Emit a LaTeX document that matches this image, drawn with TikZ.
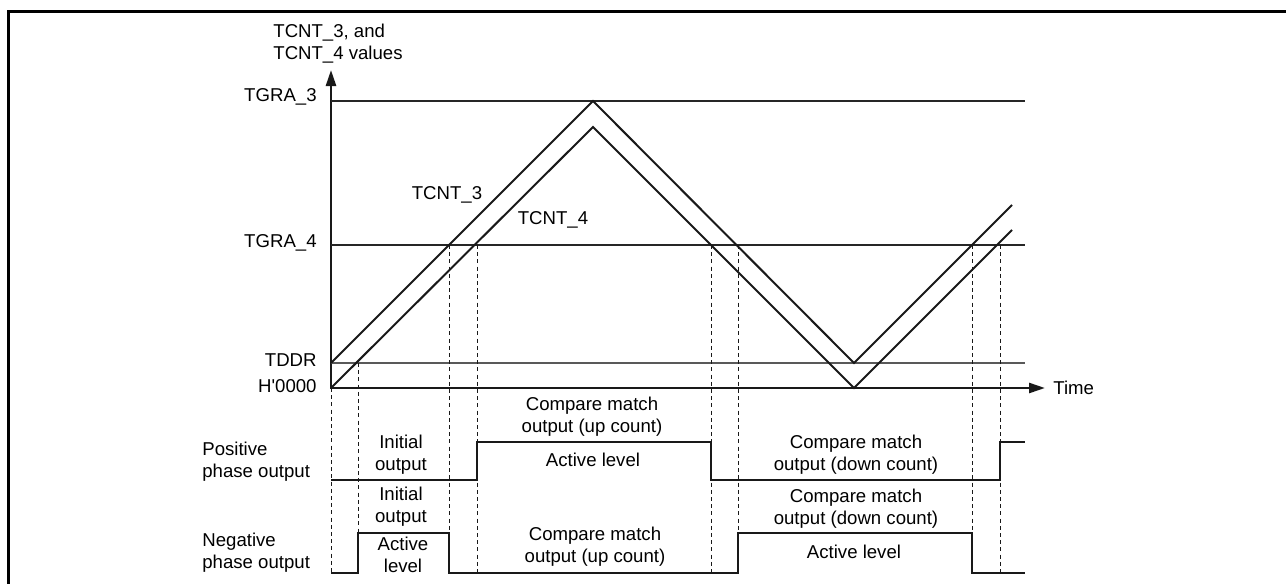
\documentclass[tikz,border=0pt]{standalone}
\usepackage{fontspec}
\setmainfont{Liberation Sans}
\usepackage{tikz}
\usetikzlibrary{arrows.meta,positioning}
\tikzset{
  lbl/.style={inner sep=0pt,align=center,font=\fontsize{9.3}{11}\selectfont},
  lbll/.style={lbl,align=left},
  axisln/.style={line width=1.25pt,black!90},
  sig/.style={line width=1pt,black!90},
  lvl/.style={line width=1pt,black!85},
  thinlvl/.style={line width=0.6pt,black!65},
  guide/.style={line width=0.45pt,dash pattern=on 2pt off 1.6pt,black!90},
  frm/.style={line width=1.5pt,black},
}
\begin{document}
\begin{tikzpicture}[x=0.5pt,y=-0.5pt,>={Triangle[length=8pt,width=5pt]}]
\useasboundingbox (0,0) rectangle (1287,584);

%% ---------- frame ----------
\draw[frm] (8,584) -- (8,11) -- (1286,11);

%% ---------- axes ----------
\coordinate (org) at (331,388);
\coordinate (ytip) at (331,70);
\coordinate (xtip) at (1045,388);
\draw[axisln,<->] (ytip) -- (org) -- (xtip);

\node[lbll,anchor=west] (yttl) at (273,44) {TCNT\_3, and\\TCNT\_4 values};
\node[lbll,anchor=west] (time) at (1053,388) {Time};

%% reference levels
\draw[lvl] (331,101) -- (1025,101);
\draw[lvl] (331,245) -- (1025,245);
\draw[thinlvl] (331,363) -- (1025,363);

\node[lbl,anchor=east] (tgra3) at (317,97)  {TGRA\_3};
\node[lbl,anchor=east] (tgra4) at (317,243) {TGRA\_4};
\node[lbl,anchor=east] (tddr)  at (317,360) {TDDR};
\node[lbl,anchor=east] (hzero) at (317,386) {H\textquotesingle 0000};

%% ---------- counters ----------
\draw[sig] (331,363) -- (593,101) -- (854,363) -- (1012,205);
\draw[sig] (331,388) -- (593,127) -- (854,388) -- (1012,230);

\node[lbl] (cnt3) at (447,195) {TCNT\_3};
\node[lbl] (cnt4) at (553,220) {TCNT\_4};

%% ---------- compare match guides ----------
\draw[guide] (331,388) -- (331,573);
\draw[guide] (358,363) -- (358,573);
\foreach \gx in {449,477,711,738,972,1000}
  \draw[guide] (\gx,245) -- (\gx,573);

%% ---------- outputs ----------
\draw[sig] (331,480) -- (477,480) -- (477,442) -- (711,442) -- (711,480)
  -- (1000,480) -- (1000,442) -- (1025,442);
\draw[sig] (331,573) -- (358,573) -- (358,533) -- (449,533) -- (449,573)
  -- (738,573) -- (738,533) -- (972,533) -- (972,573) -- (1025,573);

\node[lbll,anchor=west] (pos) at (202,462) {Positive\\phase output};
\node[lbll,anchor=west] (neg) at (202,553) {Negative\\phase output};

\node[lbl] (ini1) at (401,455) {Initial\\output};
\node[lbl] (ini2) at (401,507) {Initial\\output};
\node[lbl] (act1) at (403,555) {Active\\level};

\node[lbl] (cmu1) at (592,417) {Compare match\\output (up count)};
\node[lbl] (act2) at (593,460) {Active level};
\node[lbl] (cmu2) at (595,547) {Compare match\\output (up count)};

\node[lbl] (cmd1) at (856,455) {Compare match\\output (down count)};
\node[lbl] (cmd2) at (856,509) {Compare match\\output (down count)};
\node[lbl] (act3) at (854,552) {Active level};
\end{tikzpicture}
\end{document}
